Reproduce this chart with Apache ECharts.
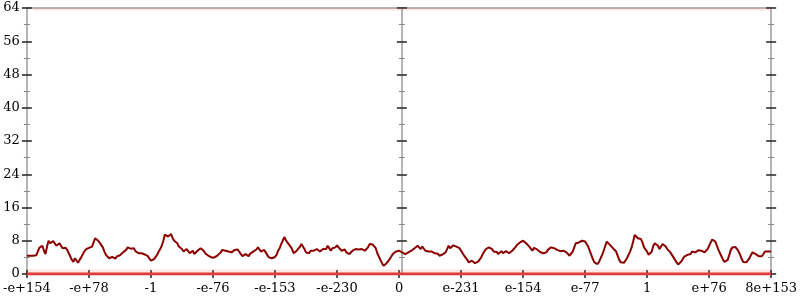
<!DOCTYPE html>
<html><head><meta charset="utf-8">
<script src="https://cdn.jsdelivr.net/npm/echarts@6/dist/echarts.min.js"></script>
<style>html,body{margin:0;padding:0;background:#fff}#c{width:800px;height:300px}</style>
</head><body><div id="c"></div>
<script>
const xTickLabels = ['-e+154','-e+78','-1','-e-76','-e-153','-e-230','0','e-231','e-154','e-77','1','e+76','8e+153'];
const xMin = -6, xMax = 6;
const yMin = 0, yMax = 64, yStep = 8;
const lineValues = [
4.4,4.4, 4.4,4.4, 4.4,4.4, 4.5,5.4, 6.3,6.0, 6.8,5.6, 4.8,6.6, 8.0,7.4, 7.2,7.9, 7.8,6.8, 6.4,7.4, 7.2,6.2, 5.9,6.3, 5.8,5.0, 4.2,3.4, 2.9,3.8, 3.6,2.7, 3.4,4.0, 4.4,5.4, 5.9,5.6,
6.3,6.4, 6.6,7.6, 8.6,8.8, 8.0,7.5, 7.2,6.4, 5.4,4.6, 4.2,3.8, 3.6,4.1, 4.0,3.7, 4.2,4.6, 4.5,4.3, 5.2,5.5, 5.8,6.4, 6.3,6.1, 5.9,6.2, 5.5,5.2, 5.0,5.3, 5.0,4.6, 4.7,4.9, 4.3,3.7,
3.2,3.0, 3.6,4.0, 4.6,5.4, 6.0,6.8, 8.0,9.5, 9.4,9.0, 9.2,9.6, 8.6,8.0, 8.2,7.4, 6.6,6.9, 6.0,5.4, 5.4,6.0, 5.6,5.0, 5.4,5.6, 4.8,5.2, 5.6,6.0, 6.2,5.8, 5.6,5.0, 4.7,4.4, 4.2,4.0,
3.7,4.0, 4.2,4.5, 4.7,5.2, 5.8,6.2, 5.6,5.2, 5.4,5.7, 5.2,5.5, 5.8,5.4, 5.9,5.3, 4.8,4.3, 4.4,4.8, 4.5,4.3, 4.9,5.3, 5.4,5.0, 5.9,6.4, 6.2,5.4, 5.0,5.8, 5.5,4.6, 4.0,4.3, 3.8,3.6,
4.1,4.6, 5.6,6.2, 7.2,8.0, 8.9,8.2, 7.6,7.2, 6.6,6.0, 5.0,5.4, 5.6,6.0, 6.5,7.2, 7.0,6.0, 5.2,4.8, 5.0,5.6, 6.0,5.6, 5.6,6.0, 5.8,5.4, 5.7,6.0, 6.4,6.0, 6.8,6.2, 5.6,6.2, 5.9,6.4,
6.9,6.4, 6.0,5.6, 5.4,5.9, 5.2,4.8, 4.8,5.2, 5.6,5.3, 6.0,6.3, 5.9,5.5, 6.0,6.2, 5.6,5.9, 6.4,7.2, 7.6,7.1, 6.8,6.2, 5.0,4.2, 3.4,2.6, 2.0,2.2, 2.6,3.0, 3.6,4.2, 4.8,4.9, 5.4,5.0,
5.6,5.8, 5.2,5.0, 4.8,4.9, 5.2,5.4, 5.6,5.8, 6.2,6.6, 6.8,6.4, 6.0,6.6, 6.2,5.6, 5.2,5.4, 5.0,5.4, 5.6,5.0, 4.6,4.9, 4.4,4.5, 4.7,4.8, 5.2,6.0, 6.8,6.2, 6.4,6.9, 7.1,6.6, 6.4,6.2,
5.6,5.0, 4.4,4.0, 3.4,2.8, 2.8,3.2, 3.0,2.6, 2.7,3.0, 3.4,4.0, 4.8,5.2, 6.0,6.2, 6.4,6.8, 6.0,5.4, 5.0,5.3, 4.8,5.0, 5.5,5.0, 5.2,5.5, 5.6,5.0, 5.3,5.6, 5.9,6.4, 7.0,7.2, 7.6,7.4,
8.0,7.6, 7.4,7.0, 6.6,6.2, 5.6,6.3, 6.2,5.9, 5.6,5.3, 5.2,5.0, 4.6,5.2, 5.8,6.2, 6.4,6.6, 6.2,6.0, 5.8,6.1, 5.5,5.3, 5.6,5.7, 5.2,5.0, 4.4,4.6, 5.4,6.4, 7.4,7.0, 7.6,7.5, 8.0,8.3,
7.8,7.2, 6.6,5.6, 4.6,3.6, 2.8,2.5, 2.4,2.9, 3.8,4.6, 5.6,6.8, 7.8,7.6, 7.0,6.7, 6.2,5.8, 5.4,4.4, 3.4,2.8, 2.5,2.7, 3.2,3.8, 4.6,5.4, 6.4,7.8, 9.4,9.8, 8.6,9.0, 8.4,7.6, 6.4,6.0,
5.4,4.6, 4.2,5.4, 6.8,7.4, 7.6,6.8, 6.0,6.6, 7.2,7.0, 6.6,6.0, 5.6,5.2, 4.8,4.0, 3.4,2.8, 2.3,2.6, 3.0,3.6, 4.2,4.5, 4.6,4.4, 4.8,5.4, 5.6,5.2, 5.4,5.7, 5.3,5.6, 5.6,5.2, 5.4,6.0,
6.8,7.6, 8.3,8.2, 7.8,6.8, 5.8,5.0, 4.2,3.4, 2.9,3.0, 3.4,4.6, 5.8,6.4, 6.8,6.5, 6.0,5.4, 4.6,3.6, 2.9,2.7, 2.8,3.2, 3.8,4.6, 5.2,5.0, 4.8,5.0, 4.3,4.6, 4.3,4.8, 5.4,5.4, 5.4,5.4,
5.4
];
const floorLine = [[xMin, 0], [xMax, 0]];
const floorHaze = [[xMin, 0.55], [xMax, 0.55]];
const ceilLine = [[-5.9, 63.7], [xMax, 63.7]];

const lineData = lineValues.map((v, i) => [xMin + i * (xMax - xMin) / (lineValues.length - 1), v]);

const FONT = 'DejaVu Serif';
const AX = '#b4b4b4';
function yAx(opts) {
  return Object.assign({
    type: 'value', min: yMin, max: yMax, interval: yStep,
    axisLine: { show: true, lineStyle: { color: AX, width: 2 } },
    axisTick: { show: true, length: 5, lineStyle: { color: '#222', width: 1.5 } },
    minorTick: { show: true, splitNumber: 2, length: 3, lineStyle: { color: '#888', width: 1 } },
    axisLabel: { show: false },
    splitLine: { show: false }
  }, opts);
}
const chart = echarts.init(document.getElementById('c'), null, { renderer: 'canvas' });
chart.setOption({
  animation: false,
  grid: { left: 24, right: 26, top: 8, bottom: 26, containLabel: false },
  xAxis: [
    { type: 'value', min: xMin, max: xMax, interval: 1, position: 'bottom',
      axisLine: { show: true, onZero: false, lineStyle: { color: AX, width: 2 } },
      axisTick: { show: true, length: 4, lineStyle: { color: '#222', width: 1.5 } },
      axisLabel: { show: true, margin: 8, color: '#000', fontFamily: FONT, fontSize: 13,
        showMinLabel: true, showMaxLabel: true,
        formatter: v => xTickLabels[Math.round(v - xMin)] },
      splitLine: { show: false } },
    { type: 'value', min: xMin, max: xMax, interval: 1, position: 'bottom',
      axisLine: { show: false, onZero: false },
      axisTick: { show: true, inside: true, length: 4, lineStyle: { color: '#222', width: 1.5 } },
      axisLabel: { show: false }, splitLine: { show: false } },
    { type: 'value', min: xMin, max: xMax, interval: 1, position: 'top',
      axisLine: { show: true, onZero: false, lineStyle: { color: AX, width: 2 } },
      axisTick: { show: false }, axisLabel: { show: false }, splitLine: { show: false } }
  ],
  yAxis: [
    yAx({ position: 'left', axisLine: { show: true, onZero: false, lineStyle: { color: AX, width: 2 } },
      axisLabel: { show: true, margin: 7, color: '#000', fontFamily: FONT, fontSize: 13 } }),
    yAx({ position: 'left', axisLine: { show: false, onZero: false },
      axisTick: { show: true, inside: true, length: 5, lineStyle: { color: '#222', width: 1.5 } },
      minorTick: { show: true, splitNumber: 2, length: 3, lineStyle: { color: '#888', width: 1 } } }),
    yAx({ position: 'left', offset: -375, axisLine: { show: true, onZero: false, lineStyle: { color: AX, width: 2 } } }),
    yAx({ position: 'left', offset: -375, axisLine: { show: false, onZero: false },
      axisTick: { show: true, inside: true, length: 5, lineStyle: { color: '#222', width: 1.5 } },
      minorTick: { show: true, splitNumber: 2, length: 3, lineStyle: { color: '#888', width: 1 } } }),
    yAx({ position: 'right', axisLine: { show: true, onZero: false, lineStyle: { color: AX, width: 2 } } }),
    yAx({ position: 'right', axisLine: { show: false, onZero: false },
      axisTick: { show: true, inside: true, length: 5, lineStyle: { color: '#222', width: 1.5 } },
      minorTick: { show: true, splitNumber: 2, length: 3, lineStyle: { color: '#888', width: 1 } } })
  ],
  series: [
    { type: 'line', data: ceilLine, symbol: 'none', silent: true,
      lineStyle: { color: 'rgba(240,110,110,0.16)', width: 3 } },
    { type: 'line', data: floorHaze, symbol: 'none', silent: true,
      lineStyle: { color: 'rgba(240,90,90,0.14)', width: 5 } },
    { type: 'line', data: floorLine, symbol: 'none', silent: true,
      lineStyle: { color: '#e23a3a', width: 3 } },
    { type: 'line', data: lineData, symbol: 'none', silent: true,
      lineStyle: { color: '#8b0000', width: 2 } }
  ]
});
</script></body></html>
